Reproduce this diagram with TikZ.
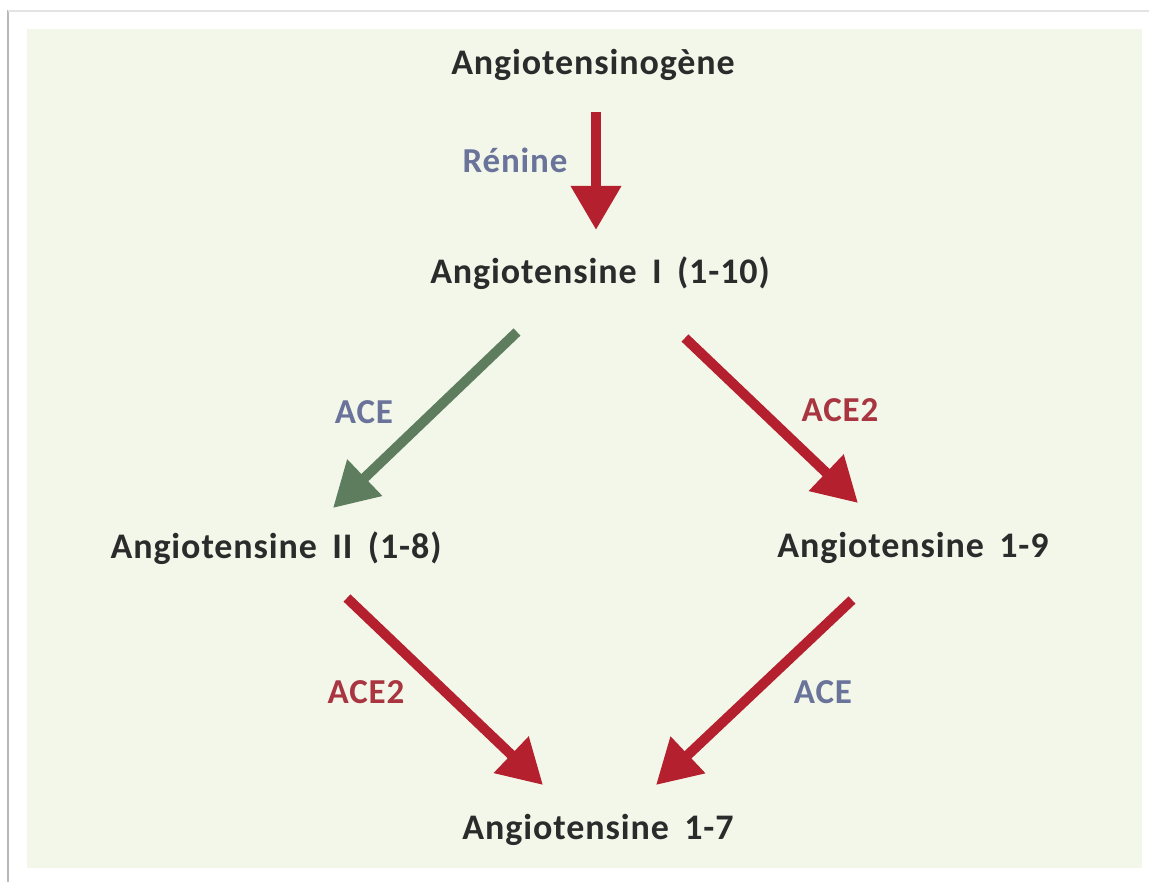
\documentclass[tikz,border=0pt]{standalone}
\usepackage{fontspec}
\setmainfont{Carlito}[LetterSpace=2.5,WordSpace=1.7]
\usetikzlibrary{arrows.meta,calc}
\definecolor{panel}{HTML}{F3F7EA}
\definecolor{frameline}{HTML}{B8B8B8}
\definecolor{txt}{HTML}{2B2B2B}
\definecolor{enzblue}{HTML}{6A7399}
\definecolor{enzred}{HTML}{A93540}
\definecolor{arrred}{HTML}{B4202D}
\definecolor{arrgreen}{HTML}{5E7D5E}
\begin{document}
\begin{tikzpicture}[x=1pt,y=-1pt,
  mol/.style={inner sep=0pt,text=txt,font=\fontsize{36}{40}\selectfont\bfseries},
  enz/.style={inner sep=0pt,font=\fontsize{35}{40}\selectfont\bfseries},
  conv/.style={line width=10pt,-{Triangle[length=44pt,width=48pt]}},
]
  % page and panel
  \useasboundingbox (0,0) rectangle (1149,882);
  \fill[white] (0,0) rectangle (1149,882);
  \draw[frameline,line width=2.5pt] (8,882) -- (8,11) -- (1149,11);
  \draw[frameline!40,line width=1.5pt] (8,11) -- (1149,11);
  \fill[panel] (27,29) rectangle (1142,868);

  % molecules
  \node[mol] (ag)  at (593,65)  {Angiotensinogène};
  \node[mol] (a1)  at (600,273) {Angiotensine I (1-10)};
  \node[mol] (a2)  at (276,548) {Angiotensine II (1-8)};
  \node[mol] (a19) at (913,548) {Angiotensine 1-9};
  \node[mol] (a17) at (598,830) {Angiotensine 1-7};

  % enzymes
  \node[enz,text=enzblue] (ren)   at (515,160) {Rénine};
  \node[enz,text=enzblue] (aceA)  at (364,412) {ACE};
  \node[enz,text=enzred]  (ace2A) at (840,410) {ACE2};
  \node[enz,text=enzred]  (ace2B) at (366,692) {ACE2};
  \node[enz,text=enzblue] (aceB)  at (823,692) {ACE};

  % conversions
  \draw[conv,arrred]   ($(ag)+(3,47)$)    -- ($(a1)+(-4,-43)$);
  \draw[conv,arrgreen] ($(a1)+(-83,59)$)  -- ($(a2)+(57,-40)$);
  \draw[conv,arrred]   ($(a1)+(85,65)$)   -- ($(a19)+(-55,-45)$);
  \draw[conv,arrred]   ($(a2)+(71,50)$)   -- ($(a17)+(-55,-45)$);
  \draw[conv,arrred]   ($(a19)+(-61,52)$) -- ($(a17)+(58,-45)$);
\end{tikzpicture}
\end{document}
